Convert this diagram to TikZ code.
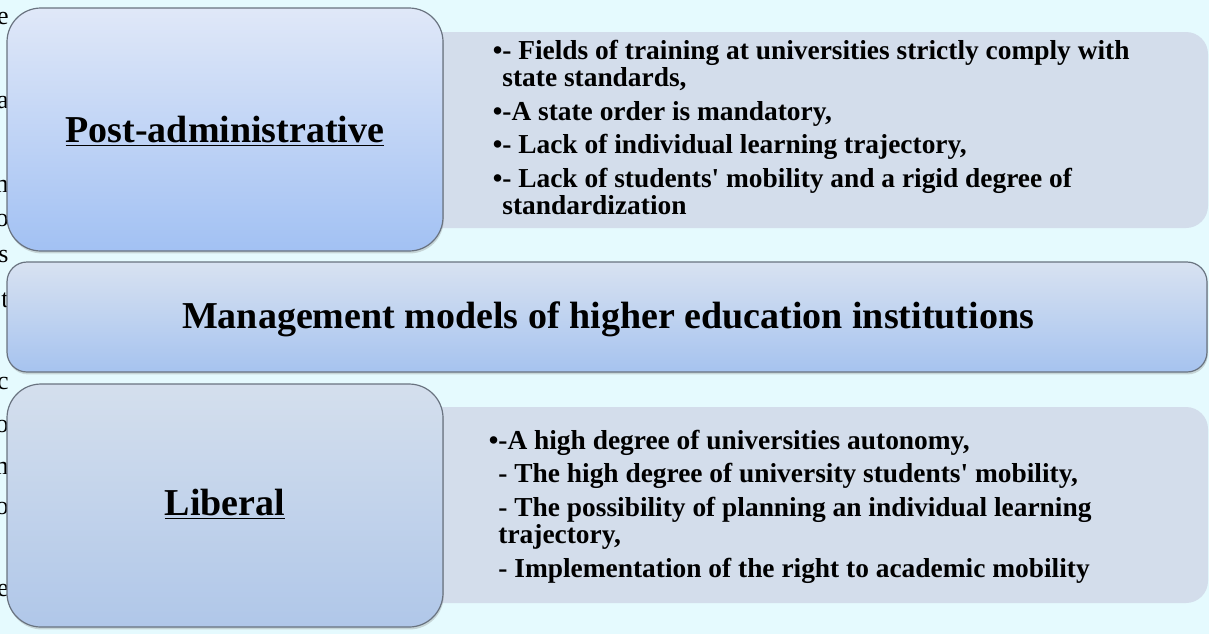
\documentclass[tikz,border=0pt]{standalone}
\usepackage{fontspec}
\setmainfont{Liberation Serif}
\usetikzlibrary{shadows}

\definecolor{pagebg}{RGB}{229,250,254}
\definecolor{panelgray}{RGB}{211,221,235}
\definecolor{boxtop}{RGB}{224,232,248}
\definecolor{boxbottom}{RGB}{162,193,243}
\definecolor{libtop}{RGB}{212,223,237}
\definecolor{libbottom}{RGB}{176,199,233}
\definecolor{bartop}{RGB}{216,226,241}
\definecolor{barbottom}{RGB}{166,195,239}
\definecolor{boxedge}{RGB}{105,115,128}

\begin{document}
\begin{tikzpicture}[x=0.5pt, y=-0.5pt,
    modelbox/.style={draw=boxedge, line width=0.6pt, rounded corners=17pt,
        drop shadow={shadow xshift=0.4pt, shadow yshift=-1.2pt, opacity=0.3}},
    listpanel/.style={fill=panelgray, rounded corners=11pt},
    headtext/.style={font=\fontsize{19}{22}\selectfont\bfseries, inner sep=0pt},
    listtext/.style={font=\fontsize{13.7}{13.6}\selectfont\bfseries,
        align=left, inner sep=0pt}]
        \useasboundingbox (0,0) rectangle (1209,634);
        \fill[pagebg] (0,0) rectangle (1209,634);

        % cut-off letters of the neighbouring column
        \foreach \y/\c in {18/e, 103/a, 186/m, 220/o, 256/s, 300/t,
                           383/c, 426/o, 468/m, 508/o, 590/e}
            \node[anchor=east, inner sep=0pt, font=\fontsize{13}{15}\selectfont] (cut\y) at (9,\y) {\c};

        % grey panels behind the lists
        \fill[listpanel] (380,32) rectangle (1208,228);
        \fill[listpanel] (380,407) rectangle (1208,603);

        % the three blue boxes
        \draw[modelbox, top color=boxtop, bottom color=boxbottom] (7,8) rectangle (443,251);
        \draw[modelbox, rounded corners=10pt, top color=bartop, bottom color=barbottom] (7,262) rectangle (1207,372);
        \draw[modelbox, top color=libtop, bottom color=libbottom] (7,384) rectangle (443,627);

        \coordinate (post) at (225,142);
        \coordinate (models) at (608,328);
        \coordinate (liberal) at (225,515);

        \node[headtext, anchor=base] (postname) at (post) {\underline{Post-administrative}};
        \node[headtext, anchor=base] (modelsname) at (models) {Management models of higher education institutions};
        \node[headtext, anchor=base] (liberalname) at (liberal) {\underline{Liberal}};

        \node[listtext, anchor=north west] (postlist) at (502,39.5) {%
            \llap{\textbullet}- Fields of training at universities strictly comply with\\
            state standards,\\[3.25pt]
            \llap{\textbullet}-A state order is mandatory,\\[3.25pt]
            \llap{\textbullet}- Lack of individual learning trajectory,\\[3.25pt]
            \llap{\textbullet}- Lack of students\textquotesingle{} mobility and a rigid degree of\\
            standardization};

        \node[listtext, anchor=north west] (liberallist) at (498,429.5) {%
            \llap{\textbullet}-A high degree of universities autonomy,\\[3.25pt]
            - The high degree of university students\textquotesingle{} mobility,\\[3.25pt]
            - The possibility of planning an individual learning\\
            trajectory,\\[3.25pt]
            - Implementation of the right to academic mobility};
\end{tikzpicture}
\end{document}
